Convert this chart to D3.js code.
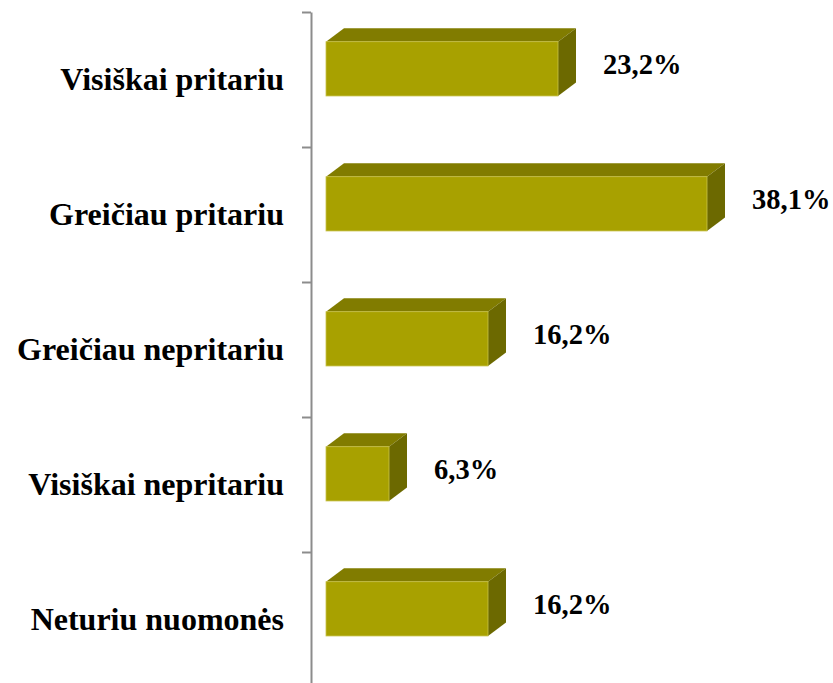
<!DOCTYPE html>
<html>
<head>
<meta charset="utf-8">
<script src="https://cdn.jsdelivr.net/npm/d3@7"></script>
<style>
html,body{margin:0;padding:0;background:#fff;}
svg{display:block;}
</style>
</head>
<body>
<svg id="chart" width="833" height="683"></svg>
<script>
const categories = ["Visiškai pritariu", "Greičiau pritariu", "Greičiau nepritariu", "Visiškai nepritariu", "Neturiu nuomonės"];
const values = [23.2, 38.1, 16.2, 6.3, 16.2];
const valueLabels = ["23,2%", "38,1%", "16,2%", "6,3%", "16,2%"];

const svg = d3.select("#chart");

const y = d3.scaleBand().domain(categories).range([12, 687]).padding(0);
const x = d3.scaleLinear().domain([0, 50]).range([326, 826]);
const yEdge = d3.scaleLinear().domain([0, categories.length]).range([12, 687]);

const depthX = 18, depthY = -13.5;
const frontOff = y.bandwidth() * 0.22;
const frontH = y.bandwidth() * 0.402;

const colFront = "#a8a100", colTop = "#817c00", colSide = "#6c6900";
const serif = "'Liberation Serif','Times New Roman',Times,serif";

// axis
const axisG = svg.append("g").attr("transform", "translate(311,0)")
  .call(d3.axisLeft(yEdge).tickValues(d3.range(categories.length + 1)).tickFormat("").tickSize(9).tickSizeOuter(0));
axisG.select(".domain").attr("stroke", "#8c8c8c").attr("stroke-width", 2);
axisG.selectAll(".tick line").attr("stroke", "#8c8c8c").attr("stroke-width", 2);

// bars
const bars = svg.append("g").selectAll("g").data(categories).join("g");
bars.each(function(c, i) {
  const g = d3.select(this);
  const x0 = x(0), x1 = x(values[i]);
  const yt = y(c) + frontOff, yb = yt + frontH;
  g.append("path")
    .attr("d", `M${x0},${yt}L${x0+depthX},${yt+depthY}L${x1+depthX},${yt+depthY}L${x1},${yt}Z`)
    .attr("fill", colTop);
  g.append("path")
    .attr("d", `M${x1},${yt}L${x1+depthX},${yt+depthY}L${x1+depthX},${yb+depthY}L${x1},${yb}Z`)
    .attr("fill", colSide);
  g.append("rect")
    .attr("x", x0).attr("y", yt).attr("width", x1 - x0).attr("height", frontH)
    .attr("fill", colFront).attr("stroke", "#c8c24a").attr("stroke-width", 0.8);
  g.append("text")
    .attr("x", x1 + 45).attr("y", y(c) + 62)
    .attr("font-family", serif)
    .attr("font-weight", "bold").attr("font-size", 28.5).attr("fill", "#000")
    .text(valueLabels[i]);
});

// category labels
svg.append("g").selectAll("text").data(categories).join("text")
  .attr("x", 284).attr("y", d => y(d) + y.bandwidth() / 2 + 10.5)
  .attr("text-anchor", "end")
  .attr("font-family", serif)
  .attr("font-weight", "bold").attr("font-size", 32).attr("fill", "#000")
  .text(d => d);
</script>
</body>
</html>
